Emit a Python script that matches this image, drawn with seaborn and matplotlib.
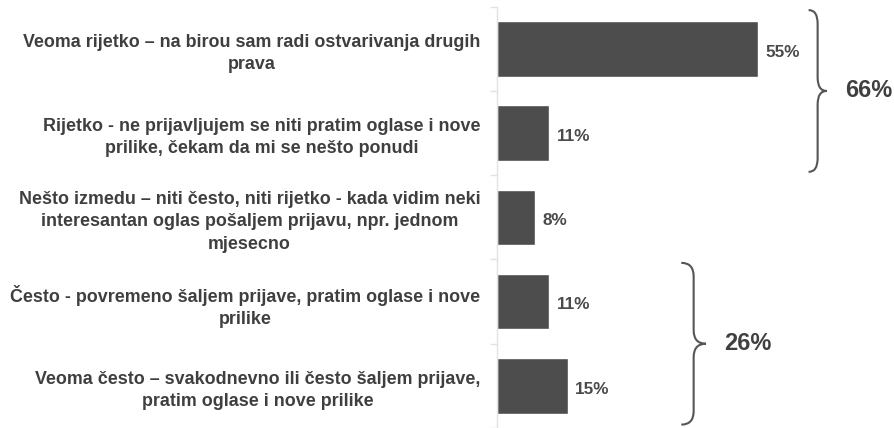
import numpy as np
import pandas as pd
import matplotlib
matplotlib.use("Agg")
import matplotlib.pyplot as plt
import seaborn as sns
from matplotlib.path import Path
from matplotlib.patches import PathPatch

# Data
categories = [
    "Veoma rijetko – na birou sam radi ostvarivanja drugih\nprava",
    "Rijetko - ne prijavljujem se niti pratim oglase i nove\nprilike, čekam da mi se nešto ponudi",
    "Nešto izmedu – niti često, niti rijetko - kada vidim neki\ninteresantan oglas pošaljem prijavu, npr. jednom\nmjesecno",
    "Često - povremeno šaljem prijave, pratim oglase i nove\nprilike",
    "Veoma često – svakodnevno ili često šaljem prijave,\npratim oglase i nove prilike",
]
values = [55, 11, 8, 11, 15]
group_first = [0, 3]
group_last = [1, 4]
group_labels = ["66%", "26%"]

# Styles
bar_color = "#4d4d4d"
text_color = "#3f3f3f"
brace_x = [65.6, 38.8]
brace_w = [3.8, 5.2]

df = pd.DataFrame({"category": categories, "value": values})

sns.set_theme(style="white")
plt.rcParams["font.family"] = ["Liberation Sans", "DejaVu Sans"]

fig = plt.figure(figsize=(8.95, 4.28), dpi=100)
ax_left = 497 / 895
ax_top_px = 6.7
ax = fig.add_axes([ax_left, 0, 1 - ax_left, 1 - ax_top_px / 428])

sns.barplot(data=df, x="value", y="category", color=bar_color, width=0.66,
            saturation=1, ax=ax, orient="h")

px_per_unit = 4.75
ax.set_xlim(0, 398 / px_per_unit)
ax.set_ylim(4.5 - (5 - (428 - ax_top_px) / 84.6), -0.5)

for sp in ["top", "right", "bottom"]:
    ax.spines[sp].set_visible(False)
ax.spines["left"].set_color("#e2e2e2")
ax.spines["left"].set_linewidth(1.0)
ax.set_xticks([])
ax.set_xlabel("")
ax.set_ylabel("")
ax.set_yticks(np.arange(-0.5, 5, 1.0), minor=True)
ax.tick_params(axis="y", which="minor", length=5, color="#e2e2e2", width=1, left=True)
ax.tick_params(axis="y", which="major", length=0, pad=12)
ax.set_yticks(range(len(categories)))
ax.set_yticklabels(categories, fontsize=12.9, fontweight="bold", color=text_color,
                   multialignment="center", linespacing=1.4)

for i, v in enumerate(values):
    ax.text(v + 1.5, i + 0.04, f"{v}%", va="center", ha="left", fontsize=12.3,
            fontweight="bold", color="#4a4a4a")


def draw_brace(ax, x0, w, y0, y1, r=0.16):
    # curly brace: ends curl left, tip points right at the middle
    xm = x0 + w * 0.5
    xt = x0 + w
    ym = (y0 + y1) / 2
    verts = [
        (x0, y0), (xm, y0), (xm, y0 + r),
        (xm, ym - r), (xm, ym), (xt, ym),
        (xm, ym), (xm, ym + r),
        (xm, y1 - r), (xm, y1), (x0, y1),
    ]
    codes = [
        Path.MOVETO, Path.CURVE3, Path.CURVE3,
        Path.LINETO, Path.CURVE3, Path.CURVE3,
        Path.CURVE3, Path.CURVE3,
        Path.LINETO, Path.CURVE3, Path.CURVE3,
    ]
    patch = PathPatch(Path(verts, codes), fill=False, edgecolor="#555555",
                      linewidth=1.5, clip_on=False)
    ax.add_patch(patch)
    return xt, ym


for g in range(len(group_labels)):
    y0 = group_first[g] - 0.46
    y1 = group_last[g] + 0.46
    xt, ym = draw_brace(ax, brace_x[g], brace_w[g], y0, y1)
    ax.text(xt + 3.8, ym, group_labels[g], va="center", ha="left", fontsize=17,
            fontweight="bold", color="#404040")

fig.savefig("out.png", dpi=100, facecolor="white")
